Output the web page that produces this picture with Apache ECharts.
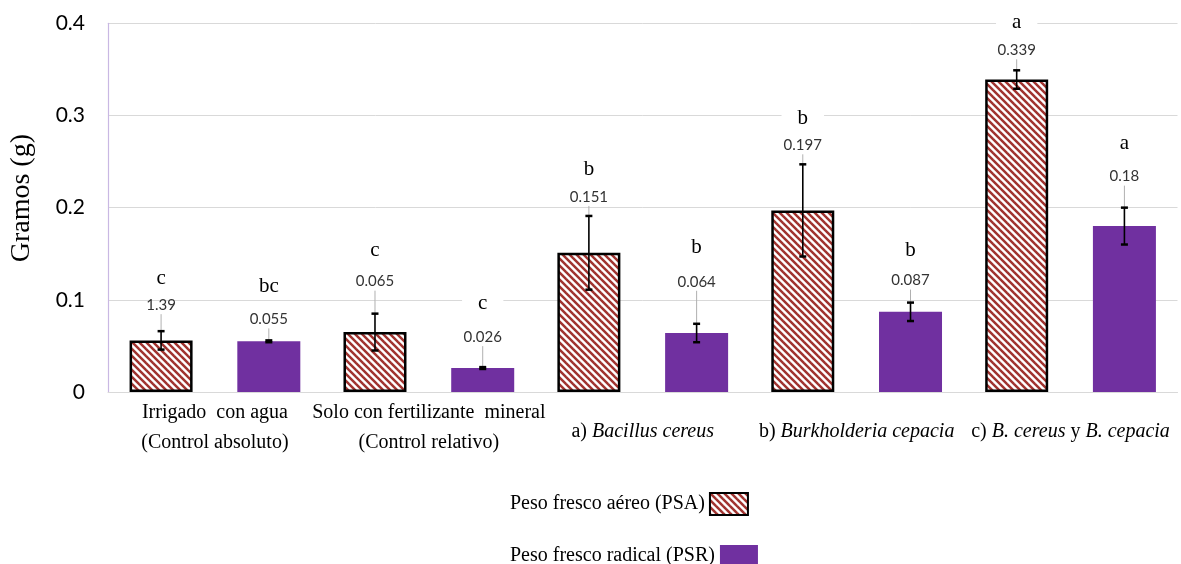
<!DOCTYPE html>
<html>
<head>
<meta charset="utf-8">
<script src="https://cdn.jsdelivr.net/npm/echarts@6/dist/echarts.min.js"></script>
<style>
  html, body { margin: 0; padding: 0; background: #ffffff; }
  #chart { width: 1181px; height: 564px; }
</style>
</head>
<body>
<div id="chart"></div>
<script>
// ---------------- data ----------------
const categories = [
  'Irrigado  con agua\n(Control absoluto)',
  'Solo con fertilizante  mineral\n(Control relativo)',
  'a) {i|Bacillus cereus}',
  'b) {i|Burkholderia cepacia}',
  'c) {i|B. cereus} y {i|B. cepacia}'
];
const seriesNames = ['Peso fresco aéreo (PSA)', 'Peso fresco radical (PSR)'];
const psaValues = [0.056, 0.065, 0.151, 0.197, 0.339];
const psrValues = [0.055, 0.026, 0.064, 0.087, 0.180];
const psaErrors = [0.010, 0.020, 0.040, 0.050, 0.010];
const psrErrors = [0.001, 0.001, 0.010, 0.010, 0.020];
const psaLabels = ['1.39', '0.065', '0.151', '0.197', '0.339'];
const psrLabels = ['0.055', '0.026', '0.064', '0.087', '0.18'];
const psaLetters = ['c', 'c', 'b', 'b', 'a'];
const psrLetters = ['bc', 'c', 'b', 'b', 'a'];
const yTicks = [0, 0.1, 0.2, 0.3, 0.4];
const yAxisTitle = 'Gramos (g)';

// ---------------- styling (not data) ----------------
const BAR_W = 63;
const BAR_GAP = 0.71;
const BAR_OFFSET = BAR_W * (1 + BAR_GAP) / 2;
const psaLabelLift = [26, 32, 19, 19, 20];
const psrLabelLift = [21, 30, 42, 22, 31];
const psaLetterGap = [27, 31, 27, 27, 28];
const psrLetterGap = [33, 34, 34, 30, 33];
const SERIF = '"Liberation Serif", "DejaVu Serif", serif';
const SANS = 'Lato, "Open Sans", sans-serif';

// hatch pattern
function makeHatch() {
  const s = 7;
  const c = document.createElement('canvas');
  c.width = s; c.height = s;
  const g = c.getContext('2d');
  g.fillStyle = '#ffffff';
  g.fillRect(0, 0, s, s);
  g.strokeStyle = '#A0332F';
  g.lineWidth = 2.5;
  g.lineCap = 'square';
  for (let k = -1; k <= 1; k++) {
    g.beginPath();
    g.moveTo(k * s - 1, -1);
    g.lineTo(k * s + s + 1, s + 1);
    g.stroke();
  }
  return c;
}
const hatch = { image: makeHatch(), repeat: 'repeat' };

function overlay(name, values, errors, labels, letters, lifts, gaps, side) {
  return {
    type: 'custom',
    name: name,
    z: 10,
    silent: true,
    data: values.map((v, i) => [i, v, errors[i]]),
    encode: { x: 0, y: 1 },
    renderItem: function (params, api) {
      const i = api.value(0), v = api.value(1), e = api.value(2);
      const x = api.coord([i, v])[0] + side * BAR_OFFSET;
      const yTop = api.coord([i, v + e])[1];
      const yBot = api.coord([i, v - e])[1];
      const yLab = yTop - lifts[i];
      const yLet = yLab - gaps[i];
      const children = [];
      if (yLab + 9 < yTop) {
        children.push({ type: 'line', shape: { x1: x, y1: yLab + 9, x2: x, y2: yTop },
          style: { stroke: '#B0B0B0', lineWidth: 1 } });
      }
      children.push({ type: 'line', shape: { x1: x, y1: yTop, x2: x, y2: yBot },
        style: { stroke: '#000', lineWidth: 1.6 } });
      children.push({ type: 'line', shape: { x1: x - 3.5, y1: yTop, x2: x + 3.5, y2: yTop },
        style: { stroke: '#000', lineWidth: 2.5 } });
      children.push({ type: 'line', shape: { x1: x - 3.5, y1: yBot, x2: x + 3.5, y2: yBot },
        style: { stroke: '#000', lineWidth: 2.5 } });
      children.push({ type: 'text', x: x, y: yLab,
        style: { text: labels[i], align: 'center', verticalAlign: 'middle',
          fill: '#333333', fontSize: 15, fontFamily: SANS } });
      children.push({ type: 'text', x: x, y: yLet,
        style: { text: letters[i], align: 'center', verticalAlign: 'middle',
          fill: '#000', fontSize: 21, fontFamily: SERIF,
          backgroundColor: '#ffffff', padding: [3, 16, 3, 16] } });
      return { type: 'group', children: children };
    }
  };
}

const catData = categories.map(function (c) {
  if (c.indexOf('\n') >= 0) return { value: c };
  return { value: c, textStyle: { padding: [19, 0, 0, 0] } };
});

const legendBase = {
  orient: 'vertical',
  left: 505,
  align: 'right',
  icon: 'rect',
  itemWidth: 38,
  itemHeight: 22,
  textStyle: { fontFamily: SERIF, fontSize: 20, color: '#000' },
  selectedMode: false
};

const chart = echarts.init(document.getElementById('chart'), null, { renderer: 'canvas' });
chart.setOption({
  animation: false,
  backgroundColor: '#ffffff',
  grid: { left: 106.5, right: 3.5, top: 23.3, bottom: 172 },
  legend: [
    Object.assign({}, legendBase, { data: [seriesNames[0]], top: 487 }),
    Object.assign({}, legendBase, { data: [seriesNames[1]], top: 540 })
  ],
  xAxis: {
    type: 'category',
    data: catData,
    axisTick: { show: false },
    axisLine: { lineStyle: { color: '#D9D9D9', width: 1 } },
    axisLabel: {
      interval: 0,
      margin: 6,
      color: '#000',
      fontFamily: SERIF,
      fontSize: 20,
      lineHeight: 30,
      rich: {
        i: { fontStyle: 'italic', fontFamily: SERIF, fontSize: 20, lineHeight: 30, color: '#000' }
      }
    }
  },
  yAxis: {
    type: 'value',
    min: yTicks[0],
    max: yTicks[yTicks.length - 1],
    interval: yTicks[1] - yTicks[0],
    name: yAxisTitle,
    nameLocation: 'middle',
    nameGap: 72,
    nameTextStyle: { fontFamily: SERIF, fontSize: 28, color: '#000', padding: [0, 0, 0, 19] },
    axisLine: { show: true, lineStyle: { color: '#C9B8E3', width: 1.2 } },
    axisTick: { show: false },
    splitLine: { lineStyle: { color: '#D9D9D9', width: 1 } },
    axisLabel: { color: '#000', fontFamily: SANS, fontSize: 21, margin: 23,
      formatter: function (v) { return String(Math.round(v * 10) / 10); } }
  },
  series: [
    {
      type: 'bar',
      name: seriesNames[0],
      data: psaValues,
      barWidth: BAR_W,
      barGap: (BAR_GAP * 100) + '%',
      itemStyle: { color: hatch, borderColor: '#000', borderWidth: 2.5 }
    },
    {
      type: 'bar',
      name: seriesNames[1],
      data: psrValues,
      barWidth: BAR_W,
      barGap: (BAR_GAP * 100) + '%',
      itemStyle: { color: '#7030A0' }
    },
    overlay('errPSA', psaValues, psaErrors, psaLabels, psaLetters, psaLabelLift, psaLetterGap, -1),
    overlay('errPSR', psrValues, psrErrors, psrLabels, psrLetters, psrLabelLift, psrLetterGap, 1)
  ]
});
</script>
</body>
</html>
